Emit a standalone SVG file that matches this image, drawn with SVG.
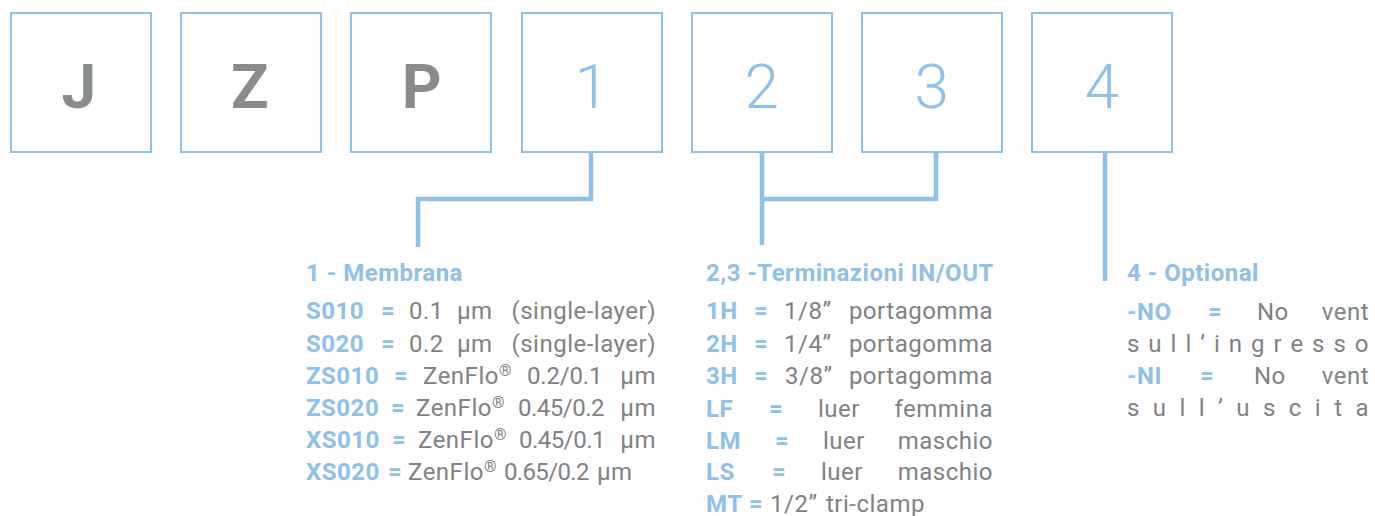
<svg xmlns="http://www.w3.org/2000/svg" width="1375" height="516" viewBox="0 0 1375 516">
<style>
.box{fill:#ffffff;stroke:#8ec0e8;stroke-width:2}
.let{font-family:Roboto,"Liberation Sans",sans-serif;font-size:62px;font-weight:700;fill:#898c8d;text-anchor:middle}
.dig{font-family:Roboto,"Liberation Sans",sans-serif;font-size:62px;font-weight:300;fill:#8ec0e8;text-anchor:middle}
.con{fill:none;stroke:#8ec0e8;stroke-width:4.5;stroke-linecap:butt;stroke-linejoin:miter}
text{font-family:Roboto,"Liberation Sans",sans-serif;font-size:24px;letter-spacing:0.5px}
.t{font-weight:700;fill:#8ec0e8}
.k{font-weight:700;fill:#8ec0e8}
.v{fill:#808283}
.e{text-anchor:end}
.r{font-size:16px}
</style>
<rect width="1375" height="516" fill="#ffffff"/>
<g id="box-J"><rect class="box" x="11" y="13" width="140" height="139"/><text class="let" x="79" y="108">J</text></g>
<g id="box-Z"><rect class="box" x="181" y="13" width="140" height="139"/><text class="let" x="250" y="108">Z</text></g>
<g id="box-P"><rect class="box" x="351" y="13" width="140" height="139"/><text class="let" x="422" y="108">P</text></g>
<g id="box-1"><rect class="box" x="522" y="13" width="140" height="139"/><text class="dig" x="592" y="108">1</text></g>
<g id="box-2"><rect class="box" x="692" y="13" width="140" height="139"/><text class="dig" x="762" y="108">2</text></g>
<g id="box-3"><rect class="box" x="862" y="13" width="140" height="139"/><text class="dig" x="932" y="108">3</text></g>
<g id="box-4"><rect class="box" x="1032" y="13" width="140" height="139"/><text class="dig" x="1102" y="108">4</text></g>
<g id="connectors">
<polyline class="con" points="591,152 591,199 418,199 418,247"/>
<polyline class="con" points="762,152 762,245"/>
<polyline class="con" points="936,152 936,199 760,199"/>
<polyline class="con" points="1105,152 1105,281"/>
</g>
<g id="legend-1">
<text class="t" x="306" y="281">1 - Membrana</text>
<text class="k" x="306" y="319">S010</text><text class="k" x="381" y="319">=</text><text class="v" x="409" y="319">0.1</text><text class="v" x="457" y="319">µm</text><text class="v e" x="656" y="319">(single-layer)</text>
<text class="k" x="306" y="352">S020</text><text class="k" x="381" y="352">=</text><text class="v" x="409" y="352">0.2</text><text class="v" x="457" y="352">µm</text><text class="v e" x="656" y="352">(single-layer)</text>
<text class="k" x="306" y="384">ZS010</text><text class="k" x="394" y="384">=</text><text class="v" x="423" y="384">ZenFlo<tspan class="r" dy="-8">®</tspan></text><text class="v" x="527" y="384" textLength="76" lengthAdjust="spacing">0.2/0.1</text><text class="v e" x="656" y="384">µm</text>
<text class="k" x="306" y="416">ZS020</text><text class="k" x="391" y="416">=</text><text class="v" x="416" y="416">ZenFlo<tspan class="r" dy="-8">®</tspan></text><text class="v" x="518" y="416" textLength="87" lengthAdjust="spacing">0.45/0.2</text><text class="v e" x="656" y="416">µm</text>
<text class="k" x="306" y="448">XS010</text><text class="k" x="392" y="448">=</text><text class="v" x="418" y="448">ZenFlo<tspan class="r" dy="-8">®</tspan></text><text class="v" x="519" y="448" textLength="87" lengthAdjust="spacing">0.45/0.1</text><text class="v e" x="656" y="448">µm</text>
<text class="k" x="306" y="480">XS020</text><text class="k" x="388" y="480">=</text><text class="v" x="408" y="480">ZenFlo<tspan class="r" dy="-8">®</tspan></text><text class="v" x="504" y="480" textLength="86" lengthAdjust="spacing">0.65/0.2</text><text class="v" x="597" y="480">µm</text>
</g>
<g id="legend-23">
<text class="t" x="706" y="281">2,3 -Terminazioni IN/OUT</text>
<text class="k" x="706" y="319">1H</text><text class="k" x="754" y="319">=</text><text class="v" x="784" y="319">1/8”</text><text class="v e" x="993" y="319">portagomma</text>
<text class="k" x="706" y="352">2H</text><text class="k" x="754" y="352">=</text><text class="v" x="784" y="352">1/4”</text><text class="v e" x="993" y="352">portagomma</text>
<text class="k" x="706" y="384">3H</text><text class="k" x="754" y="384">=</text><text class="v" x="785" y="384">3/8”</text><text class="v e" x="993" y="384">portagomma</text>
<text class="k" x="706" y="417">LF</text><text class="k" x="769" y="417">=</text><text class="v" x="818" y="417">luer</text><text class="v e" x="993" y="417">femmina</text>
<text class="k" x="706" y="449">LM</text><text class="k" x="775" y="449">=</text><text class="v" x="823" y="449">luer</text><text class="v e" x="993" y="449">maschio</text>
<text class="k" x="706" y="480">LS</text><text class="k" x="772" y="480">=</text><text class="v" x="821" y="480">luer</text><text class="v e" x="993" y="480">maschio</text>
<text class="k" x="706" y="512">MT</text><text class="k" x="749" y="512">=</text><text class="v" x="770" y="512">1/2”</text><text class="v" x="826" y="512">tri-clamp</text>
</g>
<g id="legend-4">
<text class="t" x="1127" y="281">4 - Optional</text>
<text class="k" x="1127" y="320">-NO</text><text class="k" x="1208" y="320">=</text><text class="v" x="1257" y="320">No</text><text class="v e" x="1369" y="320">vent</text>
<text class="v" x="1127" y="352" textLength="242" lengthAdjust="spacing">sull’ingresso</text>
<text class="k" x="1127" y="384">-NI</text><text class="k" x="1200" y="384">=</text><text class="v" x="1254" y="384">No</text><text class="v e" x="1369" y="384">vent</text>
<text class="v" x="1127" y="416" textLength="242" lengthAdjust="spacing">sull’uscita</text>
</g>
</svg>
